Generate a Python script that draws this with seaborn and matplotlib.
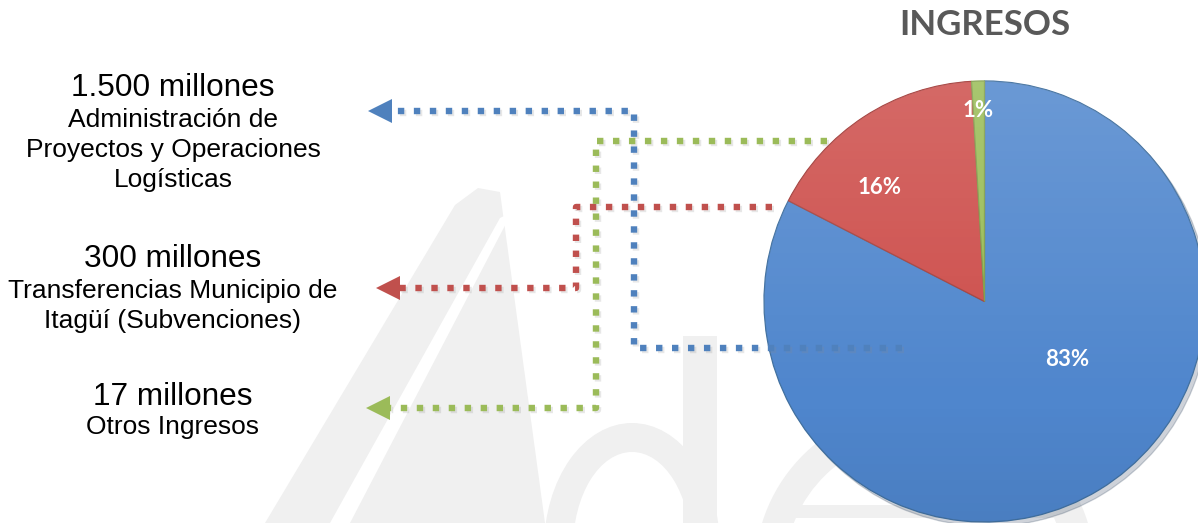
import numpy as np
import matplotlib
matplotlib.use("Agg")
import matplotlib.pyplot as plt
import matplotlib.patheffects as pe
from matplotlib.patches import Polygon, Ellipse, Rectangle, Circle
import seaborn as sns

# ---------------- data ----------------
categories = ["Administración de\nProyectos y Operaciones\nLogísticas",
              "Transferencias Municipio de\nItagüí (Subvenciones)",
              "Otros Ingresos"]
amount_labels = ["1.500 millones", "300 millones", "17 millones"]
values = [1500, 300, 17]          # millones
pct_labels = ["83%", "16%", "1%"]
title = "INGRESOS"

# ---------------- style / layout ----------------
sns.set_theme(style="white")
plt.rcParams["font.family"] = ["Liberation Sans", "DejaVu Sans"]

W, H = 1198, 523
fig = plt.figure(figsize=(W / 100, H / 100), dpi=100)
fig.patch.set_facecolor("white")

wedge_colors = ["#4F86CD", "#CD4D4A", "#98BC55"]
edge_colors = ["#41709F", "#A43F3C", "#7E9C46"]
line_colors = ["#4F81BD", "#C0504D", "#9BBB59"]

# ---------------- faint background watermark ----------------
ax_bg = fig.add_axes([0, 0, 1, 1], zorder=0)
ax_bg.set_xlim(0, W)
ax_bg.set_ylim(H, 0)
ax_bg.axis("off")
wm = "#F0F0F0"
# "A"
ax_bg.add_patch(Polygon([(265, 523), (455, 205), (478, 188), (500, 192), (545, 523)],
                        closed=True, facecolor=wm, edgecolor="none"))
ax_bg.add_patch(Polygon([(500, 218), (512, 212), (350, 523), (330, 523)],
                        closed=True, facecolor="white", edgecolor="none"))
# "d"
ax_bg.add_patch(Ellipse((632, 548), 176, 250, facecolor=wm, edgecolor="none"))
ax_bg.add_patch(Ellipse((632, 548), 118, 192, facecolor="white", edgecolor="none"))
ax_bg.add_patch(Rectangle((683, 336), 34, 200, facecolor=wm, edgecolor="none"))
# "e"
ax_bg.add_patch(Ellipse((925, 570), 340, 330, facecolor=wm, edgecolor="none"))
ax_bg.add_patch(Ellipse((925, 570), 280, 270, facecolor="white", edgecolor="none"))
ax_bg.add_patch(Rectangle((785, 505), 290, 13, facecolor=wm, edgecolor="none"))

# ---------------- pie ----------------
cx, cy, r = 984.5, 301.5, 220.5
ax_pie = fig.add_axes([(cx - r) / W, (H - cy - r) / H, 2 * r / W, 2 * r / H], zorder=1)
wedges, _ = ax_pie.pie(values, colors=wedge_colors, startangle=90, counterclock=False,
                       wedgeprops=dict(linewidth=0.9),
                       shadow=dict(ox=0.012, oy=-0.014, alpha=0.22, shade=0.6))
for w, ec in zip(wedges, edge_colors):
    w.set_edgecolor(ec)
    w.set_clip_on(False)

# soft vertical light gradient to mimic the bevel / lighting of the original
n = 256
alpha_col = np.linspace(0.16, -0.06, n)
grad = np.zeros((n, 2, 4))
grad[..., :3] = np.where(alpha_col[:, None, None] >= 0, 1.0, 0.0)
grad[..., 3] = np.abs(alpha_col)[:, None]
im = ax_pie.imshow(grad, extent=(-1, 1, -1, 1), origin="upper", aspect="auto",
                   zorder=3, interpolation="bilinear")
clip = Circle((0, 0), 1.0, transform=ax_pie.transData)
im.set_clip_path(clip)
im.set_clip_on(True)

ax_pie.set_xlim(-1, 1)
ax_pie.set_ylim(-1, 1)
ax_pie.set_aspect("equal")
ax_pie.axis("off")

# percentage labels (polar layout: angle deg, radius fraction)
label_polar = [(-34.9, 0.456), (132.4, 0.703), (91.9, 0.868)]
for txt, (ang, rr) in zip(pct_labels, label_polar):
    a = np.deg2rad(ang)
    ax_pie.text(rr * np.cos(a), rr * np.sin(a), txt, color="white", fontsize=16,
                fontweight="bold", family=["Lato", "DejaVu Sans"],
                ha="center", va="center", zorder=5)

# ---------------- connectors and texts ----------------
ax = fig.add_axes([0, 0, 1, 1], zorder=2)
ax.set_xlim(0, W)
ax.set_ylim(H, 0)
ax.axis("off")
ax.patch.set_alpha(0)

connectors = [
    [(902, 348), (634, 348), (634, 111), (392, 111)],
    [(772, 207), (576, 207), (576, 288), (398, 288)],
    [(827, 141), (596, 141), (596, 408), (390, 408)],
]
arrow_tips = [(368, 111), (376, 288), (366, 408)]

shadow = [pe.SimpleLineShadow(offset=(1.5, -1.5), shadow_color="#888888", alpha=0.2), pe.Normal()]
for path, tip, col in zip(connectors, arrow_tips, line_colors):
    xs, ys = zip(*path)
    ax.plot(xs, ys, color=col, linewidth=4.6, linestyle=(0, (1, 1.5)),
            dash_capstyle="butt", solid_joinstyle="miter", path_effects=shadow)
    ax.plot([tip[0] + 12], [tip[1]], marker="<", markersize=17, color=col,
            markeredgewidth=0, path_effects=shadow)

text_x = 173
amount_baselines = [96, 267, 405]
desc_baselines = [127, 298, 434]
line_step = 30
for amt, desc, yb, yd in zip(amount_labels, categories, amount_baselines, desc_baselines):
    ax.text(text_x, yb, amt, fontsize=22.7, color="black", ha="center", va="baseline")
    for i, line in enumerate(desc.split("\n")):
        ax.text(text_x, yd + i * line_step, line, fontsize=19, color="black",
                ha="center", va="baseline")

ax.text(cx, 25, title, fontsize=25, fontweight="bold", color="#595959",
        family=["Lato", "DejaVu Sans"], ha="center", va="center")

fig.savefig("out.png", dpi=100, facecolor="white")
